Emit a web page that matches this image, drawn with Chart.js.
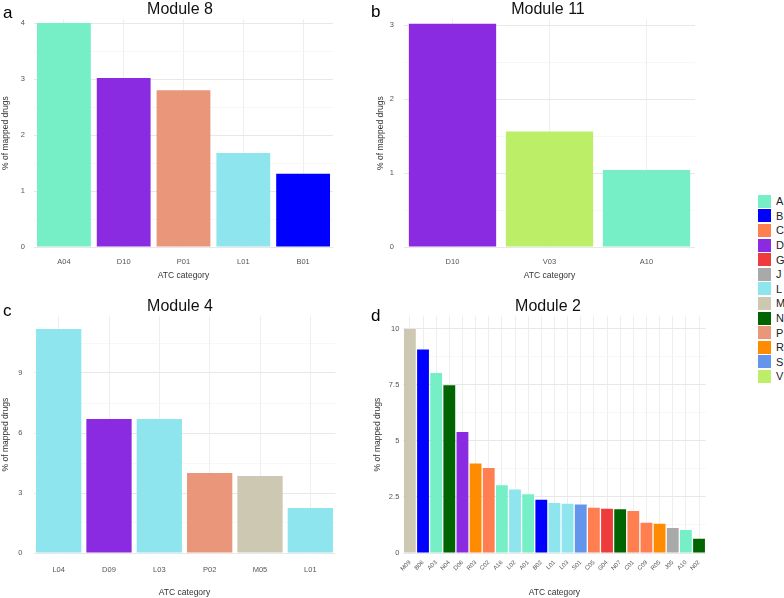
<!DOCTYPE html>
<html>
<head>
<title>ATC categories by module</title>
<script src="https://cdn.jsdelivr.net/npm/chart.js"></script>
<style>
  body { margin: 0; background: #fff; font-family: "Liberation Sans", Arial, sans-serif; }
  #page { position: relative; width: 784px; height: 598px; overflow: hidden; }
  #page canvas { position: absolute; }
  .tag { position: absolute; font-size: 17px; color: #000; line-height: 1; }
  #legend { position: absolute; left: 758px; top: 194px; }
  .key { height: 14.6px; display: flex; align-items: center; font-size: 11px; color: #222; }
  .key span { display: inline-block; width: 13px; height: 13px; margin-right: 5px; }
</style>
</head>
<body>
<div id="page">
  <canvas id="m8" width="360" height="285" style="left:0;top:0"></canvas>
  <canvas id="m11" width="352" height="285" style="left:372px;top:0"></canvas>
  <canvas id="m4" width="360" height="301" style="left:0;top:297px"></canvas>
  <canvas id="m2" width="352" height="301" style="left:372px;top:297px"></canvas>
  <div class="tag" style="left:3px;top:4px">a</div>
  <div class="tag" style="left:371px;top:3px">b</div>
  <div class="tag" style="left:3px;top:302px">c</div>
  <div class="tag" style="left:371px;top:307px">d</div>
  <div id="legend"></div>
</div>

<script>
  // ATC main groups and their colours (legend)
  const atcGroups = ["A", "B", "C", "D", "G", "J", "L", "M", "N", "P", "R", "S", "V"];
  const groupColors = ["#76EEC6", "#0000FF", "#FF7F50", "#8A2BE2", "#EE3B3B", "#A9A9A9",
    "#8EE5EE", "#CDC8B1", "#006400", "#E9967A", "#FF8C00", "#6495ED", "#BCEE68"];

  // Module 8
  const m8Codes = ["A04", "D10", "P01", "L01", "B01"];
  const m8Values = [4.0, 3.02, 2.8, 1.68, 1.31];
  const m8Ticks = [0, 1, 2, 3, 4];

  // Module 11
  const m11Codes = ["D10", "V03", "A10"];
  const m11Values = [3.02, 1.56, 1.04];
  const m11Ticks = [0, 1, 2, 3];

  // Module 4
  const m4Codes = ["L04", "D09", "L03", "P02", "M05", "L01"];
  const m4Values = [11.2, 6.7, 6.7, 4.0, 3.85, 2.25];
  const m4Ticks = [0, 3, 6, 9];

  // Module 2
  const m2Codes = ["M09", "B06", "A03", "N04", "D06", "R03", "C02", "A16", "L02", "A01", "B02", "L01",
    "L03", "S01", "C05", "G04", "N07", "C01", "C09", "R05", "J05", "A10", "N02"];
  const m2Values = [10.0, 9.08, 8.04, 7.49, 5.4, 3.99, 3.79, 3.02, 2.83, 2.62, 2.38, 2.23,
    2.2, 2.17, 2.02, 1.98, 1.95, 1.87, 1.35, 1.31, 1.12, 1.03, 0.64];
  const m2Ticks = [0, 2.5, 5, 7.5, 10];

  const colorFor = (code) => groupColors[atcGroups.indexOf(code[0])];

  // legend
  const legend = document.getElementById("legend");
  atcGroups.forEach((g, i) => {
    const row = document.createElement("div");
    row.className = "key";
    row.innerHTML = '<span style="background:' + groupColors[i] + '"></span>' + g;
    legend.appendChild(row);
  });

  function makePanel(id, title, codes, values, ticks, o) {
    // major ticks get labels, minor lines go half way between
    const step = ticks[1] - ticks[0];
    const grid = [];
    ticks.forEach((t) => { grid.push(t); });
    ticks.forEach((t) => { if (t + step / 2 <= o.max) grid.push(t + step / 2); });
    grid.sort((a, b) => a - b);

    return new Chart(document.getElementById(id), {
      type: "bar",
      data: {
        labels: codes,
        datasets: [{
          data: values,
          backgroundColor: codes.map(colorFor),
          borderWidth: 0,
          barPercentage: 0.9,
          categoryPercentage: 1.0
        }]
      },
      options: {
        responsive: false,
        animation: false,
        layout: { padding: 0 },
        plugins: {
          legend: { display: false },
          tooltip: { enabled: false },
          title: {
            display: true,
            text: title,
            color: "#111",
            font: { family: "Liberation Sans", size: 16, weight: "normal" },
            padding: 0
          }
        },
        scales: {
          x: {
            border: { display: false },
            grid: { color: "#eeeeee", offset: false, drawTicks: false },
            ticks: {
              color: "#555",
              font: { family: "Liberation Sans", size: o.xFont },
              padding: o.xPad,
              autoSkip: false,
              maxRotation: o.rot,
              minRotation: o.rot
            },
            title: {
              display: true,
              text: "ATC category",
              color: "#333",
              font: { family: "Liberation Sans", size: 8.5 },
              padding: { top: 0, bottom: o.titlePad }
            },
            afterFit: (s) => { s.height = o.xHeight; }
          },
          y: {
            min: 0,
            max: o.max,
            border: { display: false },
            grid: {
              drawTicks: false,
              color: (c) => (c.tick && ticks.includes(c.tick.value) ? "#e8e8e8" : "#f4f4f4"),
              lineWidth: (c) => (c.tick && ticks.includes(c.tick.value) ? 1 : 0.7)
            },
            afterBuildTicks: (s) => { s.ticks = grid.map((v) => ({ value: v })); },
            ticks: {
              color: "#555",
              font: { family: "Liberation Sans", size: 7.5 },
              padding: o.yPad,
              callback: (v) => (ticks.includes(v) ? String(v) : "")
            },
            title: {
              display: true,
              text: "% of mapped drugs",
              color: "#333",
              font: { family: "Liberation Sans", size: 8.5 },
              padding: { top: o.yTitlePad, bottom: 0 }
            },
            afterFit: (s) => { s.width = o.yWidth; }
          },
          // empty right-hand axis, only there to hold the space right of the panel
          spacer: {
            type: "linear",
            position: "right",
            border: { display: false },
            grid: { display: false },
            ticks: { display: false },
            afterFit: (s) => { s.width = o.padRight; }
          }
        }
      }
    });
  }

  makePanel("m8", "Module 8", m8Codes, m8Values, m8Ticks,
    { max: 4.07, padRight: 27, yWidth: 34, yPad: 9, yTitlePad: 1, xHeight: 38, xPad: 10, xFont: 7.5, rot: 0, titlePad: 4 });
  makePanel("m11", "Module 11", m11Codes, m11Values, m11Ticks,
    { max: 3.08, padRight: 29, yWidth: 32, yPad: 10, yTitlePad: 4, xHeight: 38, xPad: 10, xFont: 7.5, rot: 0, titlePad: 4 });
  makePanel("m4", "Module 4", m4Codes, m4Values, m4Ticks,
    { max: 11.84, padRight: 24.5, yWidth: 33.5, yPad: 11, yTitlePad: 1, xHeight: 45, xPad: 12, xFont: 7.5, rot: 0, titlePad: 0 });
  makePanel("m2", "Module 2", m2Codes, m2Values, m2Ticks,
    { max: 10.57, padRight: 18.4, yWidth: 31.3, yPad: 4, yTitlePad: 1, xHeight: 45, xPad: 6, xFont: 6, rot: 45, titlePad: 0 });
</script>
</body>
</html>
